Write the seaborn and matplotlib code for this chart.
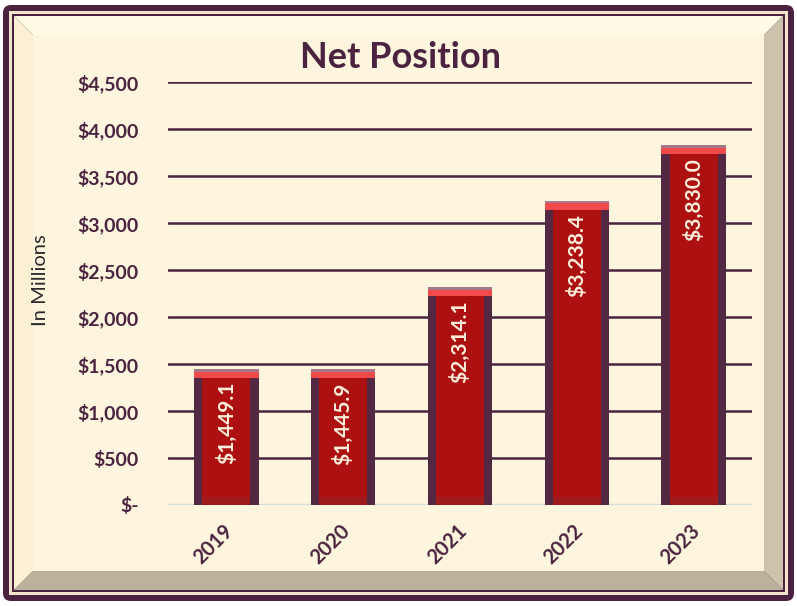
import matplotlib
matplotlib.use("Agg")
import matplotlib.pyplot as plt
import matplotlib.transforms as mtransforms
import seaborn as sns
import pandas as pd
import numpy as np
from matplotlib.patches import Polygon, FancyBboxPatch, Rectangle

# --- Data ---
years = ['2019', '2020', '2021', '2022', '2023']
net_position = [1449.1, 1445.9, 2314.1, 3238.4, 3830.0]
y_ticks = [0, 500, 1000, 1500, 2000, 2500, 3000, 3500, 4000, 4500]
y_tick_labels = ['$-', '$500', '$1,000', '$1,500', '$2,000', '$2,500',
                 '$3,000', '$3,500', '$4,000', '$4,500']

df = pd.DataFrame({'Year': years, 'Value': net_position})

# --- Style ---
sns.set_style('white')
plt.rcParams['font.family'] = ['Lato', 'DejaVu Sans']

dark = '#4b2340'
W, H = 797, 606
fig = plt.figure(figsize=(W / 100, H / 100), dpi=100)

# --- Frame (background axes in pixel coords) ---
bg = fig.add_axes([0, 0, 1, 1], zorder=-1)
bg.set_xlim(0, W)
bg.set_ylim(H, 0)
bg.axis('off')
bg.add_patch(FancyBboxPatch((3, 5), W - 6, H - 10, boxstyle='round,pad=0,rounding_size=8',
                            fc=dark, ec='none'))
bg.add_patch(Rectangle((9, 11), W - 18, H - 22, fc='#f3e4cc', ec='none'))
bg.add_patch(Rectangle((12, 14), W - 24, H - 28, fc=dark, ec='none'))
x0, y0, x1, y1 = 14, 16, W - 14, H - 16
b = 19
bg.add_patch(Polygon([(x0, y0), (x1, y0), (x1 - b, y0 + b), (x0 + b, y0 + b)], fc='#fffbe4', ec='none'))
bg.add_patch(Polygon([(x0, y0), (x0 + b, y0 + b), (x0 + b, y1 - b), (x0, y1)], fc='#fbefd4', ec='none'))
bg.add_patch(Polygon([(x1, y0), (x1, y1), (x1 - b, y1 - b), (x1 - b, y0 + b)], fc='#cdc2ac', ec='none'))
bg.add_patch(Polygon([(x0, y1), (x1, y1), (x1 - b, y1 - b), (x0 + b, y1 - b)], fc='#bcb19b', ec='none'))
bg.add_patch(Rectangle((x0 + b, y0 + b), x1 - x0 - 2 * b, y1 - y0 - 2 * b, fc='#fdf5de', ec='none'))

# --- Main axes ---
ax = fig.add_axes([168 / W, 1 - 505 / H, 584 / W, 423 / H])
ax.patch.set_alpha(0)

# outer dark bar (bevel sides) and inner red face
sns.barplot(data=df, x='Year', y='Value', color='#532843', width=0.55,
            saturation=1, linewidth=0, ax=ax, zorder=2)
sns.barplot(data=df, x='Year', y='Value', color='#ad1010', width=0.41,
            saturation=1, linewidth=0, ax=ax, zorder=3)
xs = np.arange(len(years))
vals = np.array(net_position)
# top cap highlight
ax.bar(xs, 95, bottom=vals - 95, width=0.55, color='#f04a4a', linewidth=0, zorder=4)
ax.bar(xs, 30, bottom=vals - 30, width=0.55, color='#a47a8a', linewidth=0, zorder=5)
# lower bevel
ax.bar(xs, 85, bottom=0, width=0.41, color='#a01c1c', linewidth=0, zorder=4)

for x, v in zip(xs, net_position):
    ax.text(x, v - 140, f'${v:,.1f}', rotation=90, ha='center', va='top',
            color='#fdf0dc', fontsize=15, fontweight='bold', zorder=6)

ax.set_xlim(-0.5, 4.5)
ax.set_ylim(0, 4500)
ax.set_yticks(y_ticks)
ax.set_yticklabels(y_tick_labels)
for y in y_ticks[1:]:
    ax.axhline(y, color=dark, lw=1.8, zorder=1)
ax.axhline(0, color='#d4dbe2', lw=2.5, zorder=1)

for s in ax.spines.values():
    s.set_visible(False)
ax.tick_params(axis='both', length=0)
ax.tick_params(axis='y', pad=27, labelsize=14, labelcolor=dark)
ax.tick_params(axis='x', pad=14, labelsize=14.5, labelcolor=dark)
offset = mtransforms.ScaledTranslation(-13 / 100, 4 / 100, fig.dpi_scale_trans)
for lbl in ax.get_yticklabels():
    lbl.set_fontweight('bold')
for lbl in ax.get_xticklabels():
    lbl.set_fontweight('bold')
    lbl.set_rotation(45)
    lbl.set_ha('center')
    lbl.set_transform(lbl.get_transform() + offset)
ax.set_xlabel('')
ax.set_ylabel('')

# nudge y tick labels right so they end near x=140 px
yoff = mtransforms.ScaledTranslation(8 / 100, 0, fig.dpi_scale_trans)
for lbl in ax.get_yticklabels():
    lbl.set_transform(lbl.get_transform() + yoff)

fig.text(401 / W, 1 - 57 / H, 'Net Position', ha='center', va='center',
         fontsize=26, fontweight='bold', color=dark)
fig.text(40 / W, 1 - 280 / H, 'In Millions', rotation=90, ha='center', va='center',
         fontsize=14.5, color='#2a2a2a')

fig.savefig('out.png', dpi=100)
